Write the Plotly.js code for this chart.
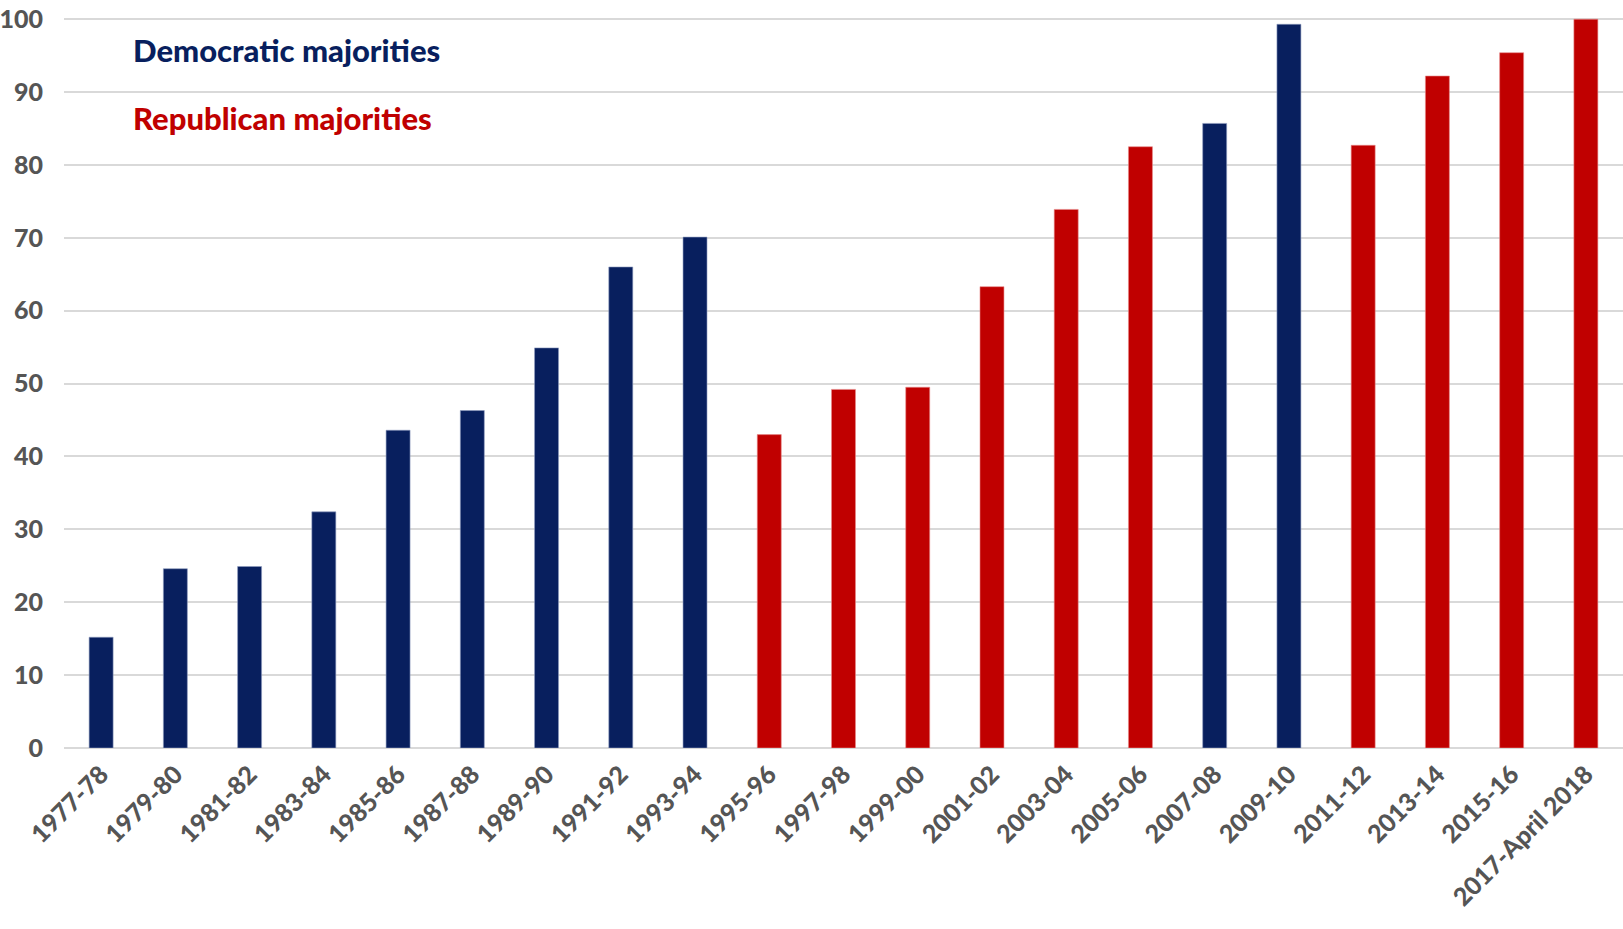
<!DOCTYPE html>
<html>
<head>
<meta charset="utf-8">
<script src="https://cdn.plot.ly/plotly-3.0.1.min.js"></script>
<style>
  html, body { margin: 0; padding: 0; background: #ffffff; }
  #chart { width: 1623px; height: 929px; }
</style>
</head>
<body>
<div id="chart"></div>
<script>
const periods = ["1977-78","1979-80","1981-82","1983-84","1985-86","1987-88","1989-90","1991-92","1993-94","1995-96","1997-98","1999-00","2001-02","2003-04","2005-06","2007-08","2009-10","2011-12","2013-14","2015-16","2017-April 2018"];
const values = [15.2, 24.6, 24.9, 32.4, 43.6, 46.3, 54.9, 66.0, 70.1, 43.0, 49.2, 49.5, 63.3, 73.9, 82.5, 85.7, 99.3, 82.7, 92.2, 95.4, 100];
const majority = ["D","D","D","D","D","D","D","D","D","R","R","R","R","R","R","D","D","R","R","R","R"];
const yTicks = [0,10,20,30,40,50,60,70,80,90,100];
const legendLabels = ["Democratic majorities", "Republican majorities"];

const NAVY = "#081f5e";
const RED = "#c00000";

function pick(party) {
  const x = [], y = [];
  periods.forEach((p, i) => { if (majority[i] === party) { x.push(p); y.push(values[i]); } });
  return {x, y};
}
const dem = pick("D"), rep = pick("R");

const traces = [
  { type: "bar", x: dem.x, y: dem.y, name: legendLabels[0],
    marker: { color: NAVY, line: { color: "#8f9cc0", width: 0.6 } }, hoverinfo: "x+y" },
  { type: "bar", x: rep.x, y: rep.y, name: legendLabels[1],
    marker: { color: RED, line: { color: "#e88a8a", width: 0.6 } }, hoverinfo: "x+y" }
];

const tickFont = { family: "Lato, 'Open Sans', sans-serif", size: 25, color: "#555555", weight: 900 };

const layout = {
  width: 1623, height: 929,
  margin: { l: 64, r: 0, t: 17, b: 181 },
  paper_bgcolor: "#ffffff", plot_bgcolor: "#ffffff",
  barmode: "overlay",
  bargap: 0.677,
  showlegend: false,
  xaxis: {
    type: "category",
    categoryorder: "array", categoryarray: periods,
    tickangle: -45,
    tickfont: tickFont,
    ticklabelstandoff: 6,
    showgrid: false, zeroline: false, showline: false,
    ticks: "", automargin: false
  },
  yaxis: {
    range: [0, 100.3],
    tickvals: yTicks,
    ticktext: yTicks.map(String),
    tickfont: tickFont,
    ticklabeloverflow: "allow",
    ticks: "", ticklabelstandoff: 20,
    showgrid: true, gridcolor: "#d9d9d9", gridwidth: 2,
    zeroline: true, zerolinecolor: "#d9d9d9", zerolinewidth: 2,
    showline: false, automargin: false
  },
  annotations: [
    { xref: "paper", yref: "paper", x: 0.043, y: 0.955, xanchor: "left", yanchor: "middle",
      text: legendLabels[0], showarrow: false,
      font: { family: "Lato, 'Open Sans', sans-serif", size: 31, color: NAVY, weight: 900 } },
    { xref: "paper", yref: "paper", x: 0.043, y: 0.862, xanchor: "left", yanchor: "middle",
      text: legendLabels[1], showarrow: false,
      font: { family: "Lato, 'Open Sans', sans-serif", size: 31, color: RED, weight: 900 } }
  ]
};

Plotly.newPlot("chart", traces, layout, { displayModeBar: false, staticPlot: true });
</script>
</body>
</html>
